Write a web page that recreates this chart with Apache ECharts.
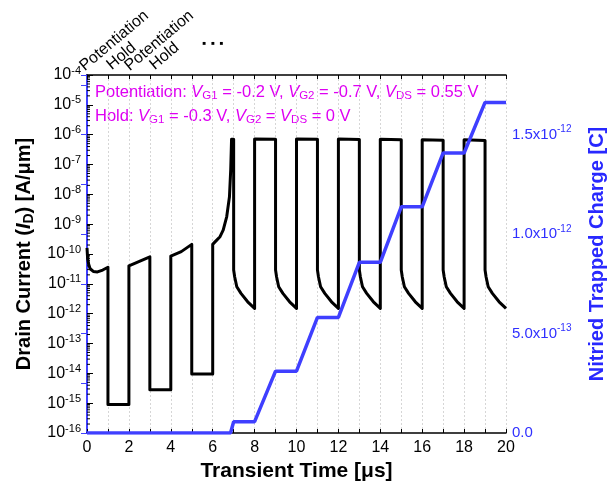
<!DOCTYPE html>
<html><head><meta charset="utf-8">
<script src="https://cdn.jsdelivr.net/npm/echarts@6/dist/echarts.min.js"></script>
<style>html,body{margin:0;padding:0;background:#fff}#c{width:609px;height:486px}</style>
</head><body><div id="c"></div>
<script>
// ---- data ----
const timeUs = [0, 0.03, 0.08, 0.15, 0.3, 0.5, 0.75, 1.0, 1.0, 2.0, 2.0, 3.0, 3.0, 4.0, 4.0, 4.5, 5.0, 5.0, 6.0, 6.0, 6.1, 6.35, 6.5, 6.67, 6.8, 6.86, 6.9, 7.0,
  7.0, 7.05, 7.15, 7.35, 7.67, 8.0, 8.0, 9.0,
  9.0, 9.05, 9.15, 9.35, 9.67, 10.0, 10.0, 11.0,
  11.0, 11.05, 11.15, 11.35, 11.67, 12.0, 12.0, 13.0,
  13.0, 13.05, 13.15, 13.35, 13.67, 14.0, 14.0, 15.0,
  15.0, 15.05, 15.15, 15.35, 15.67, 16.0, 16.0, 17.0,
  17.0, 17.05, 17.15, 17.35, 17.67, 18.0, 18.0, 19.0,
  19.0, 19.05, 19.15, 19.35, 19.67, 20.0];
const drainCurrent = [1.6e-10, 7e-11, 4.5e-11, 3.2e-11, 2.6e-11, 2.5e-11, 2.9e-11, 3.6e-11, 9e-16, 9e-16, 4e-11, 8e-11, 2.8e-15, 2.8e-15, 8.5e-11, 1.2e-10, 2.1e-10, 9.5e-15, 9.5e-15, 2.1e-10, 2.5e-10, 3.8e-10, 6.3e-10, 1.8e-9, 8.3e-9, 6.6e-8, 7e-7, 7e-7,
  2.9e-11, 1.7e-11, 8e-12, 4.8e-12, 2.5e-12, 1.5e-12, 7.2e-7, 7e-7,
  2.9e-11, 1.7e-11, 8e-12, 4.8e-12, 2.5e-12, 1.5e-12, 7.1e-7, 7e-7,
  2.9e-11, 1.7e-11, 8e-12, 4.8e-12, 2.5e-12, 1.5e-12, 7.1e-7, 6.9e-7,
  2.9e-11, 1.7e-11, 8e-12, 4.8e-12, 2.5e-12, 1.5e-12, 7e-7, 6.7e-7,
  2.9e-11, 1.7e-11, 8e-12, 4.8e-12, 2.5e-12, 1.5e-12, 6.8e-7, 6.5e-7,
  2.9e-11, 1.7e-11, 8e-12, 4.8e-12, 2.5e-12, 1.5e-12, 6.7e-7, 6.4e-7,
  2.9e-11, 1.7e-11, 8e-12, 4.8e-12, 2.5e-12, 1.5e-12];
const chargeTime = [0, 6.85, 7.0, 8.0, 9.0, 10.0, 11.0, 12.0, 13.0, 14.0, 15.0, 16.0, 17.0, 18.0, 19.0, 20.0];
const trappedCharge = [0, 0, 0.057e-12, 0.057e-12, 0.311e-12, 0.311e-12, 0.581e-12, 0.581e-12, 0.858e-12, 0.858e-12, 1.137e-12, 1.137e-12, 1.408e-12, 1.408e-12, 1.662e-12, 1.662e-12];
const phaseLabels = ['Potentiation', 'Hold', 'Potentiation', 'Hold'];

// minor log ticks (2..9 per decade) for left axis decoration
const minorLogTicks = [];
for (let e = -16; e < -4; e++) for (let m = 2; m <= 9; m++) minorLogTicks.push(m * Math.pow(10, e));

const FONT = 'Liberation Sans, Arial, sans-serif';
const MAG = '#DE00F2';
const BLUE = '#3F3FFF';

const chart = echarts.init(document.getElementById('c'), null, {renderer: 'canvas'});

const supFmt = (v) => {
  const e = Math.round(Math.log10(v));
  return '{b|10}{s|' + e + '}';
};
const rightFmt = (v) => {
  if (v === 0) return '{b|0.0}';
  const e = Math.floor(Math.log10(v) + 1e-9);
  const m = v / Math.pow(10, e);
  return '{b|' + m.toFixed(1) + 'x10}{s|' + e + '}';
};

const legendRich = {
  b: {fontFamily: FONT, fontSize: 16.5, fill: MAG, lineHeight: 20},
  i: {fontFamily: FONT, fontSize: 16.5, fontStyle: 'italic', fill: MAG, lineHeight: 20},
  s: {fontFamily: FONT, fontSize: 11.5, fill: MAG, lineHeight: 12, verticalAlign: 'bottom'}
};

const option = {
  animation: false,
  textStyle: {fontFamily: FONT},
  grid: {left: 87, right: 103, top: 75, bottom: 53, containLabel: false, outerBoundsMode: 'none'},
  xAxis: [{
    type: 'value', min: 0, max: 20, interval: 2,
    name: 'Transient Time [μs]', nameLocation: 'middle', nameGap: 26,
    nameTextStyle: {fontFamily: FONT, fontSize: 21, fontWeight: 'bold', color: '#000'},
    axisLine: {show: true, lineStyle: {color: '#000', width: 1.5}},
    axisTick: {show: true, inside: true, length: 4, lineStyle: {color: '#000'}},
    minorTick: {show: true, splitNumber: 2, length: 4, lineStyle: {color: '#000'}},
    axisLabel: {fontFamily: FONT, fontSize: 16, color: '#000', margin: 7},
    splitLine: {show: true, lineStyle: {color: '#d6d6d6', type: [2, 2], width: 1}},
    minorSplitLine: {show: true, lineStyle: {color: '#d6d6d6', type: [2, 2], width: 1}}
  }, {
    type: 'value', min: 0, max: 20, interval: 1, position: 'top',
    axisLine: {show: true, lineStyle: {color: '#000', width: 1.5}},
    axisTick: {show: true, inside: true, length: 4, lineStyle: {color: '#000'}},
    axisLabel: {show: false}, splitLine: {show: false}
  }],
  yAxis: [{
    type: 'log', logBase: 10, min: 1e-16, max: 1e-4, interval: 1,
    name: '{b|Drain Current (}{i|I}{s|D}{b|) [A/μm]}',
    nameLocation: 'middle', nameGap: 40, nameRotate: 90,
    nameTextStyle: {rich: {
      b: {fontFamily: FONT, fontSize: 20, fontWeight: 'bold', color: '#000', lineHeight: 24},
      i: {fontFamily: FONT, fontSize: 20, fontWeight: 'bold', fontStyle: 'italic', color: '#000', lineHeight: 24},
      s: {fontFamily: FONT, fontSize: 14, fontWeight: 'bold', color: '#000', lineHeight: 14, verticalAlign: 'bottom'}
    }},
    axisLine: {show: true, lineStyle: {color: '#000', width: 1.5}},
    axisTick: {show: true, inside: true, length: 6, lineStyle: {color: '#000'}},
    axisLabel: {formatter: supFmt, margin: 6, rich: {
      b: {fontFamily: FONT, fontSize: 16, color: '#000', lineHeight: 20},
      s: {fontFamily: FONT, fontSize: 11, color: '#000', lineHeight: 11, verticalAlign: 'top'}
    }},
    splitLine: {show: false}
  }, {
    type: 'value', min: 0, max: 1.8e-12, interval: 0.5e-12, position: 'right',
    name: 'Nitried Trapped Charge [C]', nameLocation: 'middle', nameGap: 81, nameRotate: 90,
    nameMoveOverlap: false,
    nameTextStyle: {fontFamily: FONT, fontSize: 20, fontWeight: 'bold', color: '#2828FF'},
    axisLine: {show: true, lineStyle: {color: BLUE, width: 2}},
    axisTick: {show: true, inside: true, length: 6, lineStyle: {color: BLUE}},
    minorTick: {show: true, splitNumber: 2, length: 6, lineStyle: {color: BLUE}},
    axisLabel: {formatter: rightFmt, margin: 6, showMaxLabel: false, rich: {
      b: {fontFamily: FONT, fontSize: 15, color: '#3030FF', lineHeight: 20},
      s: {fontFamily: FONT, fontSize: 10, color: '#3030FF', lineHeight: 10, verticalAlign: 'top'}
    }},
    splitLine: {show: false}
  }],
  graphic: [
    ...phaseLabels.map((t, k) => ({
      type: 'text', x: [87, 114, 132, 157][k], y: [74, 73, 74, 73][k],
      rotation: 40 * Math.PI / 180,
      style: {text: t, fontFamily: FONT, fontSize: 16, fill: '#000', textAlign: 'left', textVerticalAlign: 'bottom'}
    })),
    {type: 'text', x: 213, y: 43, style: {text: '■   ■   ■', fontFamily: FONT, fontSize: 6, fill: '#000', textAlign: 'center', textVerticalAlign: 'middle'}},
    {type: 'text', x: 95, y: 92, style: {
      text: '{b|Potentiation: }{i|V}{s|G1}{b| = -0.2 V, }{i|V}{s|G2}{b| = -0.7 V, }{i|V}{s|DS}{b| = 0.55 V}',
      textVerticalAlign: 'middle', textAlign: 'left', rich: legendRich}},
    {type: 'text', x: 95, y: 116, style: {
      text: '{b|Hold: }{i|V}{s|G1}{b| = -0.3 V, }{i|V}{s|G2}{b| = }{i|V}{s|DS}{b| = 0 V}',
      textVerticalAlign: 'middle', textAlign: 'left', rich: legendRich}}
  ],
  series: [{
    type: 'custom', xAxisIndex: 0, yAxisIndex: 0, silent: true, clip: false,
    data: minorLogTicks.map(v => [0, v]),
    renderItem: (params, api) => {
      const p = api.coord([0, api.value(1)]);
      return {type: 'line', shape: {x1: p[0], y1: p[1], x2: p[0] + 3, y2: p[1]}, style: {stroke: '#000', lineWidth: 1}};
    },
    z: 1
  }, {
    type: 'line', xAxisIndex: 0, yAxisIndex: 0, showSymbol: false, symbol: 'none',
    data: timeUs.map((t, i) => [t, drainCurrent[i]]),
    lineStyle: {color: '#000', width: 3, join: 'round'}, z: 3
  }, {
    type: 'line', xAxisIndex: 0, yAxisIndex: 1, showSymbol: false, symbol: 'none',
    data: chargeTime.map((t, i) => [t, trappedCharge[i]]),
    lineStyle: {color: BLUE, width: 3.5}, z: 4
  }]
};
chart.setOption(option);
</script>
</body></html>
